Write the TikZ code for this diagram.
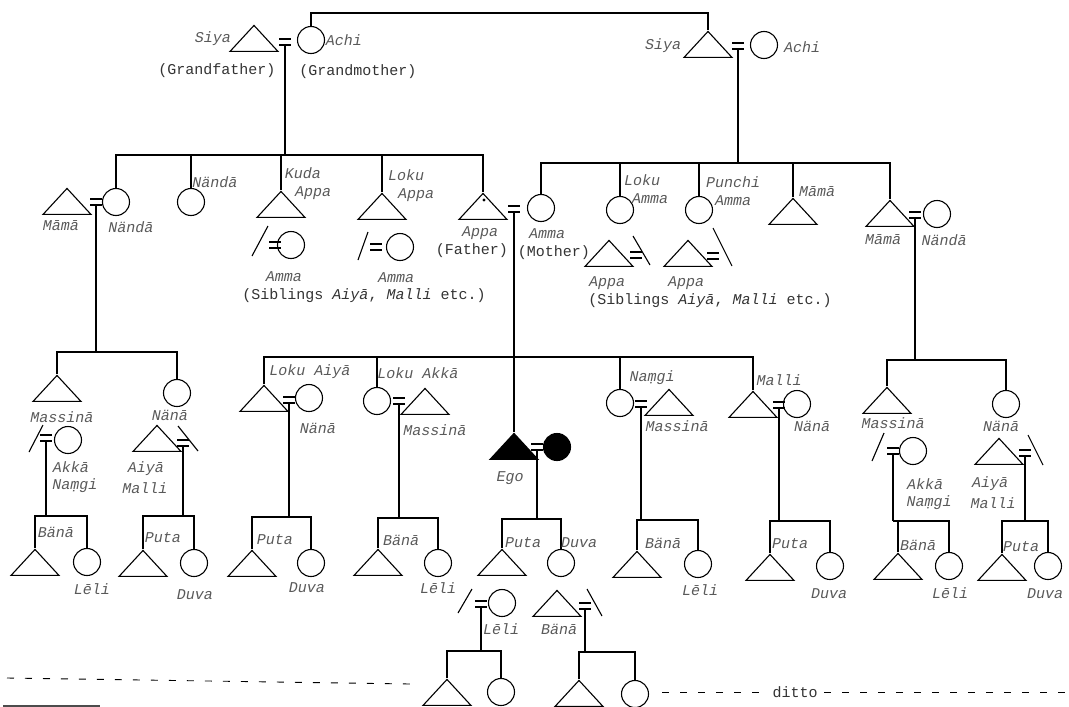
\documentclass[tikz,border=0pt]{standalone}
\usepackage{fontspec}
\setmonofont{Liberation Mono}
\usetikzlibrary{shapes.geometric}
\newcommand{\wedlock}[3]{\coordinate (#1) at (#2,#3);
  \draw (#1) ++(-6,-3) -- ++(12,0) (#1) ++(-6,3) -- ++(12,0);}

\begin{document}
\begin{tikzpicture}[x=1pt, y=-1pt, line width=1.1pt,
    male/.style={draw, isosceles triangle, isosceles triangle stretches,
      shape border rotate=90, minimum width=48, minimum height=26,
      inner sep=0pt, anchor=apex},
    female/.style={draw, circle, minimum size=27, inner sep=0pt},
    lbl/.style={font=\fontsize{15}{16}\selectfont\ttfamily\itshape,
      text=black!65, inner sep=0pt},
    note/.style={font=\fontsize{15}{16}\selectfont\ttfamily,
      text=black!80, inner sep=0pt},
    ditto/.style={line width=0.9pt, dash pattern=on 7pt off 11pt}]
  \useasboundingbox (0,0) rectangle (1069,707);

  \node[male] (gfL) at (254,24) {};
  \node[female] (gmL) at (311,40) {};
  \wedlock{mGL}{285}{42}
  \node[male] (gfR) at (708,30) {};
  \node[female] (gmR) at (764,45) {};
  \wedlock{mGR}{738}{46}
  \coordinate (top) at (500,13);
  \draw (gmL.north) |- (top) -| (gfR.apex);

  \node[male] (mm1) at (67,187) {};
  \node[female] (nd1) at (116,202) {};
  \wedlock{mA}{96}{202}
  \node[female] (nd2) at (191,202) {};
  \node[male] (ka) at (281,190) {};
  \node[male] (la) at (382,192) {};
  \node[male] (fa) at (483,192) {};
  \fill (fa.apex) ++(1,8) circle (1.6);
  \node[female] (mo) at (541,208) {};
  \wedlock{mP}{514}{209}
  \node[female] (lam) at (620,210) {};
  \node[female] (pam) at (699,210) {};
  \node[male] (mam) at (793,197) {};
  \node[male] (mm2) at (890,199) {};
  \node[female] (nd3) at (937,214) {};
  \wedlock{mB}{915}{215}

  \coordinate (barL) at (285,155);
  \coordinate (barR) at (738,163);
  \draw (mGL) ++(0,3) -- (barL);
  \draw (mGR) ++(0,3) -- (barR);
  \draw (nd1.north) |- (barL) -| (fa.apex);
  \draw (mo.north) |- (barR) -| (mm2.apex);
  \foreach \c in {nd2.north, ka.apex, la.apex}
    \draw (\c) -- (\c |- barL);
  \foreach \c in {lam.north, pam.north, mam.apex}
    \draw (\c) -- (\c |- barR);

  \node[female] (am1) at (291,245) {};
  \wedlock{wK}{275}{245}
  \draw (am1.center) ++(-39,11) -- ++(16,-30);
  \node[female] (am2) at (400,247) {};
  \wedlock{wL}{376}{247}
  \draw (am2.center) ++(-42,13) -- ++(10,-28);
  \node[male] (ap1) at (609,239) {};
  \wedlock{wM}{636}{255}
  \draw (ap1.apex) ++(24,-3) -- ++(17,29);
  \node[male] (ap2) at (688,239) {};
  \wedlock{wN}{713}{256}
  \draw (ap2.apex) ++(25,-11) -- ++(19,38);

  \node[male] (ms1) at (57,374) {};
  \node[female] (nn1) at (177,393) {};
  \coordinate (bar3a) at (96,352);
  \draw (mA) ++(0,3) -- (bar3a);
  \draw (ms1.apex) |- (bar3a) -| (nn1.north);
  \node[female] (ak1) at (68,440) {};
  \wedlock{wA}{46}{438}
  \draw (ak1.center) ++(-39,12) -- ++(14,-27);
  \node[male] (ai1) at (157,424) {};
  \wedlock{wB}{183}{443}
  \draw (ai1.apex) ++(21,2) -- ++(20,25);

  \node[male] (la1) at (264,384) {};
  \node[female] (nn2) at (309,398) {};
  \wedlock{wC}{289}{400}
  \node[female] (lak) at (377,401) {};
  \node[male] (ms2) at (425,387) {};
  \wedlock{wD}{399}{401}
  \node[male, fill=black] (ego) at (514,432) {};
  \node[female, fill=black] (egw) at (557,447) {};
  \wedlock{wE}{537}{447}
  \node[female] (nm) at (620,403) {};
  \node[male] (ms3) at (669,388) {};
  \wedlock{wF}{641}{404}
  \node[male] (ml) at (753,390) {};
  \node[female] (nn3) at (797,404) {};
  \wedlock{wG}{779}{405}
  \coordinate (bar3b) at (514,357);
  \draw (mP) ++(0,3) -- (ego.apex);
  \draw (la1.apex) |- (bar3b) -| (ml.apex);
  \foreach \c in {lak.north, nm.north}
    \draw (\c) -- (\c |- bar3b);

  \node[male] (ms4) at (887,386) {};
  \node[female] (nn4) at (1006,404) {};
  \coordinate (bar3c) at (915,360);
  \draw (mB) ++(0,3) -- (bar3c);
  \draw (ms4.apex) |- (bar3c) -| (nn4.north);
  \node[female] (ak2) at (913,451) {};
  \wedlock{wH}{893}{451}
  \draw (ak2.center) ++(-41,10) -- ++(12,-28);
  \node[male] (ai2) at (999,437) {};
  \wedlock{wI}{1025}{453}
  \draw (ai2.apex) ++(29,-2) -- ++(15,30);

  \node[male] (bn1) at (35,548) {};
  \node[female] (ll1) at (87,562) {};
  \node[male] (pt1) at (143,549) {};
  \node[female] (dv1) at (194,563) {};
  \node[male] (pt2) at (252,549) {};
  \node[female] (dv2) at (311,563) {};
  \node[male] (bn2) at (378,548) {};
  \node[female] (ll2) at (438,563) {};
  \node[male] (pt3) at (502,548) {};
  \node[female] (dv3) at (561,563) {};
  \node[male] (bn4) at (637,550) {};
  \node[female] (ll4) at (698,564) {};
  \node[male] (pt4) at (770,553) {};
  \node[female] (dv4) at (830,566) {};
  \node[male] (bn5) at (898,552) {};
  \node[female] (ll5) at (949,566) {};
  \node[male] (pt5) at (1002,553) {};
  \node[female] (dv5) at (1048,566) {};

  \node[female] (ll3) at (502,603) {};
  \wedlock{wJ}{481}{604}
  \draw (ll3.center) ++(-44,10) -- ++(14,-24);
  \node[male] (bn3) at (557,589) {};
  \wedlock{wQ}{585}{606}
  \draw (bn3.apex) ++(30,0) -- ++(15,27);
  \node[male] (c1) at (447,678) {};
  \node[female] (c2) at (501,692) {};
  \node[male] (c3) at (579,679) {};
  \node[female] (c4) at (635,694) {};

  \foreach \m/\t/\c/\y in {wA/bn1/ll1/516, wB/pt1/dv1/516, wC/pt2/dv2/517,
      wD/bn2/ll2/518, wE/pt3/dv3/519, wF/bn4/ll4/520, wG/pt4/dv4/521,
      wH/bn5/ll5/521, wI/pt5/dv5/521, wJ/c1/c2/651, wQ/c3/c4/652} {
    \draw (\m) ++(0,3) -- (\m |- 0,\y);
    \draw (\t.apex) |- (\m |- 0,\y) -| (\c.north);
  }

  \foreach \n/\x/\y/\t in {s1/213/39/Siya, a1/344/40/Achi, s2/663/46/Siya,
      a2/802/47/Achi, mmA/61/226/Māmā, ndA/131/227/Nändā, ndB/215/182/Nändā,
      kuda/303/173/Kuda, appaA/313/193/Appa, ammaA/284/277/Amma,
      lokuA/406/175/Loku, appaB/416/195/Appa, ammaB/396/278/Amma,
      appaF/480/233/Appa, ammaM/547/234/Amma, lokuB/642/180/Loku,
      ammaC/650/199/Amma, appaC/607/283/Appa, punchi/733/182/Punchi,
      ammaD/733/201/Amma, appaD/686/283/Appa, mamaC/817/192/Māmā,
      mamaD/883/240/Māmā, ndC/944/240/Nändā,
      msA/62/417/Massinā, akA/71/467/Akkā, nmA/75/486/Na\d{m}gi,
      bnA/56/532/Bänā, llA/92/589/Lēli, nnA/170/415/Nänā, aiA/146/469/Aiyā,
      mlA/145/488/Malli, ptA/163/538/Puta, dvA/195/595/Duva,
      laiy/310/372/Loku Aiyā, nnB/318/428/Nänā, ptB/275/540/Puta,
      dvB/307/588/Duva, lakk/418/373/Loku Akkā, msB/435/430/Massinā,
      bnB/401/540/Bänā, llB/438/588/Lēli, egoL/510/478/Ego, ptC/523/543/Puta,
      dvC/579/543/Duva, llD/501/629/Lēli, bnD/559/629/Bänā,
      nmB/652/378/Na\d{m}gi, msC/677/426/Massinā, bnC/663/543/Bänā,
      llC/700/590/Lēli, mlB/779/380/Malli, nnC/812/426/Nänā,
      ptD/790/544/Puta, dvD/829/594/Duva, msD/893/423/Massinā,
      akB/925/484/Akkā, nmC/929/503/Na\d{m}gi, bnE/918/545/Bänā,
      llE/950/593/Lēli, nnD/1001/426/Nänā, aiB/990/484/Aiyā,
      mlC/993/503/Malli, ptE/1021/547/Puta, dvE/1045/594/Duva}
    \node[lbl] (\n) at (\x,\y) {\t};

  \foreach \n/\x/\y/\t in {gf/217/71/(Grandfather), gm/358/72/(Grandmother),
      fath/472/251/(Father), moth/554/253/(Mother), dt/795/692/ditto}
    \node[note] (\n) at (\x,\y) {\t};
  \node[note] (sib1) at (364,296) {(Siblings \textit{Aiyā}, \textit{Malli} etc.)};
  \node[note] (sib2) at (710,301) {(Siblings \textit{Aiyā}, \textit{Malli} etc.)};

  \coordinate (dl1) at (7,678);
  \coordinate (dl2) at (410,684);
  \coordinate (dl3) at (662,692);
  \coordinate (dl4) at (1065,692);
  \draw[ditto] (dl1) -- (dl2);
  \draw[ditto] (dl3) -- ([xshift=-6pt]dt.west);
  \draw[ditto] ([xshift=6pt]dt.east) -- (dl4);
  \coordinate (rl1) at (3,706);
  \coordinate (rl2) at (100,706);
  \draw[line width=2pt, black!70] (rl1) -- (rl2);
\end{tikzpicture}
\end{document}
